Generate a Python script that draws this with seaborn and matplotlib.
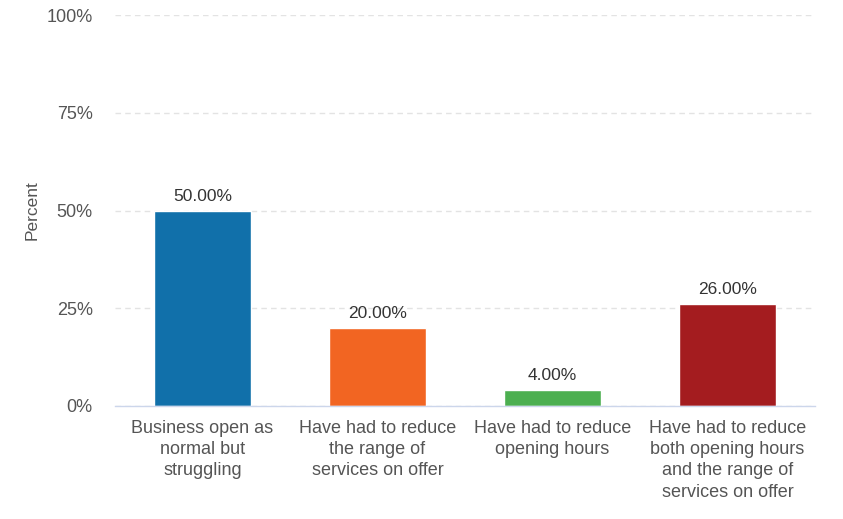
import matplotlib
matplotlib.use("Agg")
import matplotlib.pyplot as plt
import seaborn as sns
import pandas as pd
from matplotlib.ticker import FuncFormatter

categories = [
    "Business open as\nnormal but\nstruggling",
    "Have had to reduce\nthe range of\nservices on offer",
    "Have had to reduce\nopening hours",
    "Have had to reduce\nboth opening hours\nand the range of\nservices on offer",
]
percent = [50.0, 20.0, 4.0, 26.0]
colors = ["#1170aa", "#f26522", "#4caf50", "#a41c1f"]
y_ticks = [0, 25, 50, 75, 100]

df = pd.DataFrame({"category": categories, "percent": percent})

sns.set_style("white")
plt.rcParams["font.family"] = ["Liberation Sans", "DejaVu Sans"]

fig = plt.figure(figsize=(8.43, 5.19), dpi=100)
ax = fig.add_axes([115 / 843, 1 - 406 / 519, 700 / 843, 391 / 519])

sns.barplot(data=df, x="category", y="percent", hue="category",
            palette=colors, width=0.555, legend=False, ax=ax, saturation=1)

ax.set_xlim(-0.5, 3.5)
ax.set_ylim(0, 100)
ax.set_yticks(y_ticks)
ax.yaxis.set_major_formatter(FuncFormatter(lambda v, p: f"{v:.0f}%"))
ax.grid(axis="y", color="#e3e3e3", linestyle=(0, (4, 3)), linewidth=1)
ax.set_axisbelow(True)
for s in ["top", "right", "left"]:
    ax.spines[s].set_visible(False)
ax.spines["bottom"].set_color("#ccd6eb")
ax.spines["bottom"].set_linewidth(1)

ax.tick_params(axis="both", length=0, labelsize=13, labelcolor="#555555")
ax.tick_params(axis="y", pad=16)
ax.tick_params(axis="x", pad=10)
for lbl in ax.get_xticklabels():
    lbl.set_linespacing(1.33)

ax.set_xlabel("")
ax.set_ylabel("Percent", fontsize=12.5, color="#555555", labelpad=5)

for i, v in enumerate(percent):
    ax.annotate(f"{v:.2f}%", (i, v), xytext=(0, 5), textcoords="offset points",
                ha="center", va="bottom", fontsize=12.5, color="#333333")

fig.savefig("out.png", dpi=100)
